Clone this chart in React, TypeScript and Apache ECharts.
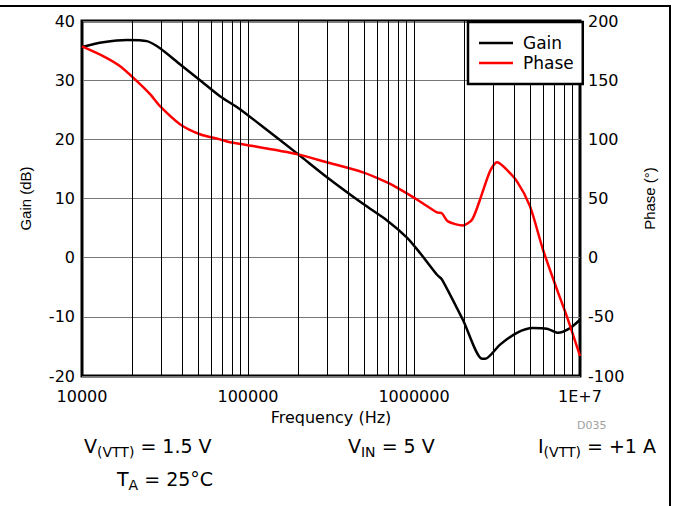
import React, { useEffect, useRef } from "react";
import * as echarts from "echarts";

const gainFreq = [10000, 13400, 18700, 24600, 29500, 38900, 51400, 67800, 89500, 118000, 200000, 299000, 493000, 688000, 907000, 1087000, 1376000, 1475000, 1970000, 2570000, 2680000, 3300000, 4170000, 5210000, 6330000, 7370000, 8710000, 10000000];
const gainDb = [35.6, 36.4, 36.8, 36.6, 35.4, 32.7, 30.0, 27.3, 25.1, 22.5, 17.5, 13.6, 9.1, 6.3, 3.4, 0.8, -2.9, -3.7, -10.5, -17.1, -17.1, -14.7, -12.7, -11.9, -12.0, -12.7, -11.9, -10.5];

const phaseFreq = [10000, 13400, 16900, 21400, 25700, 29500, 38900, 51400, 67800, 78000, 96000, 200000, 299000, 493000, 688000, 824000, 1087000, 1376000, 1475000, 1600000, 1970000, 2240000, 2500000, 2870000, 3160000, 3440000, 4170000, 5000000, 5980000, 7270000, 8350000, 10000000];
const phaseDeg = [178.5, 170.3, 161.9, 149.2, 138.2, 128, 112.8, 104.3, 100, 97.5, 95.5, 87.3, 80.6, 72.1, 63.6, 57.7, 47.5, 38.2, 37.4, 30.6, 27.2, 32.3, 49.2, 73, 80.6, 77.3, 64.5, 43.3, 6.9, -27, -50, -83];

const decades = [10000, 100000, 1000000];
const minorMultipliers = [2, 3, 4, 5, 6, 7, 8, 9];

const FONT = "DejaVu Sans, sans-serif";
const TITLE_FONT = "Liberation Sans, Arial, sans-serif";

export default function App() {
  const ref = useRef<HTMLDivElement>(null);
  useEffect(() => {
    if (!ref.current) return;
    const chart = echarts.init(ref.current, undefined, { renderer: "svg" });
    const minorLines: any[] = [];
    decades.forEach((d) => minorMultipliers.forEach((m) => minorLines.push({ xAxis: d * m })));
    const rich = {
      n: { fontSize: 19, fontFamily: FONT, fill: "#000", verticalAlign: "top", lineHeight: 26 },
      s: { fontSize: 14, fontFamily: FONT, fill: "#000", verticalAlign: "top", lineHeight: 26, padding: [9, 0, 0, 0] },
    };
    chart.setOption({
      animation: false,
      textStyle: { fontFamily: FONT },
      grid: {
        left: 82,
        right: 93,
        top: 21,
        bottom: 130,
        show: true,
        borderColor: "#000",
        borderWidth: 3,
        backgroundColor: "transparent",
      },
      legend: {
        data: [
          { name: "Gain", icon: "rect" },
          { name: "Phase", icon: "rect" },
        ],
        orient: "vertical",
        left: 468,
        top: 22,
        itemWidth: 34,
        itemHeight: 2.5,
        itemGap: 2,
        padding: [12, 9, 12, 11],
        borderColor: "#000",
        borderWidth: 2.5,
        borderRadius: 0,
        backgroundColor: "#fff",
        textStyle: { fontFamily: FONT, fontSize: 17, color: "#000", lineHeight: 18, padding: [0, 0, 0, 5] },
        z: 10,
      },
      xAxis: {
        type: "log",
        logBase: 10,
        min: 10000,
        max: 10000000,
        name: "Frequency (Hz)",
        nameLocation: "middle",
        nameGap: 33,
        nameTextStyle: { fontFamily: FONT, fontSize: 16, color: "#000" },
        axisLine: { show: false },
        axisTick: { show: false },
        axisLabel: {
          fontFamily: FONT,
          fontSize: 16,
          color: "#000",
          margin: 12,
          formatter: (v: number) => (v >= 9999999 ? "1E+7" : String(Math.round(v))),
        },
        splitLine: { show: true, lineStyle: { color: "#000", width: 1 } },
      },
      yAxis: [
        {
          type: "value",
          min: -20,
          max: 40,
          interval: 10,
          name: "Gain (dB)",
          nameLocation: "middle",
          nameGap: 49,
          nameRotate: 90,
          nameTextStyle: { fontFamily: TITLE_FONT, fontSize: 15, color: "#000" },
          axisLine: { show: false },
          axisTick: { show: false },
          axisLabel: { fontFamily: FONT, fontSize: 16, color: "#000", margin: 7 },
          splitLine: { show: true, lineStyle: { color: "#777", width: 1 } },
        },
        {
          type: "value",
          min: -100,
          max: 200,
          interval: 50,
          name: "Phase (°)",
          nameLocation: "middle",
          nameGap: 62,
          nameRotate: 90,
          nameTextStyle: { fontFamily: TITLE_FONT, fontSize: 15, color: "#000" },
          axisLine: { show: false },
          axisTick: { show: false },
          axisLabel: { fontFamily: FONT, fontSize: 16, color: "#000", margin: 8 },
          splitLine: { show: false },
        },
      ],
      series: [
        {
          name: "grid",
          type: "line",
          data: [[10000, -20]],
          symbol: "none",
          lineStyle: { opacity: 0 },
          silent: true,
          z: 1,
          markLine: {
            silent: true,
            symbol: ["none", "none"],
            label: { show: false },
            lineStyle: { color: "#000", width: 1, type: "solid" },
            data: minorLines,
          },
        },
        {
          name: "Gain",
          type: "line",
          yAxisIndex: 0,
          data: gainFreq.map((f, i) => [f, gainDb[i]]),
          showSymbol: false,
          symbol: "none",
          smooth: 0.25,
          lineStyle: { color: "#000", width: 2.5 },
          itemStyle: { color: "#000" },
          z: 3,
        },
        {
          name: "Phase",
          type: "line",
          yAxisIndex: 1,
          data: phaseFreq.map((f, i) => [f, phaseDeg[i]]),
          showSymbol: false,
          symbol: "none",
          smooth: 0.25,
          lineStyle: { color: "#ff0000", width: 2.5 },
          itemStyle: { color: "#ff0000" },
          z: 4,
        },
      ],
      graphic: [
        { type: "line", shape: { x1: 0, y1: 6, x2: 671, y2: 6 }, style: { stroke: "#000", lineWidth: 2 } },
        { type: "line", shape: { x1: 670, y1: 6, x2: 670, y2: 506 }, style: { stroke: "#000", lineWidth: 2 } },
        {
          type: "text",
          left: 577,
          top: 420,
          style: { text: "D035", fill: "#a0a0a0", font: `11px ${FONT}` },
        },
        {
          type: "text",
          left: 84,
          top: 436,
          style: { text: "{n|V}{s|(VTT)}{n| = 1.5 V}", rich },
        },
        {
          type: "text",
          left: 348,
          top: 436,
          style: { text: "{n|V}{s|IN}{n| = 5 V}", rich },
        },
        {
          type: "text",
          left: 538,
          top: 436,
          style: { text: "{n|I}{s|(VTT)}{n| = +1 A}", rich },
        },
        {
          type: "text",
          left: 117,
          top: 469,
          style: { text: "{n|T}{s|A}{n| = 25°C}", rich },
        },
      ],
    });
    return () => chart.dispose();
  }, []);
  return <div ref={ref} style={{ position: "absolute", left: 0, top: 0, width: 673, height: 506 }} />;
}
